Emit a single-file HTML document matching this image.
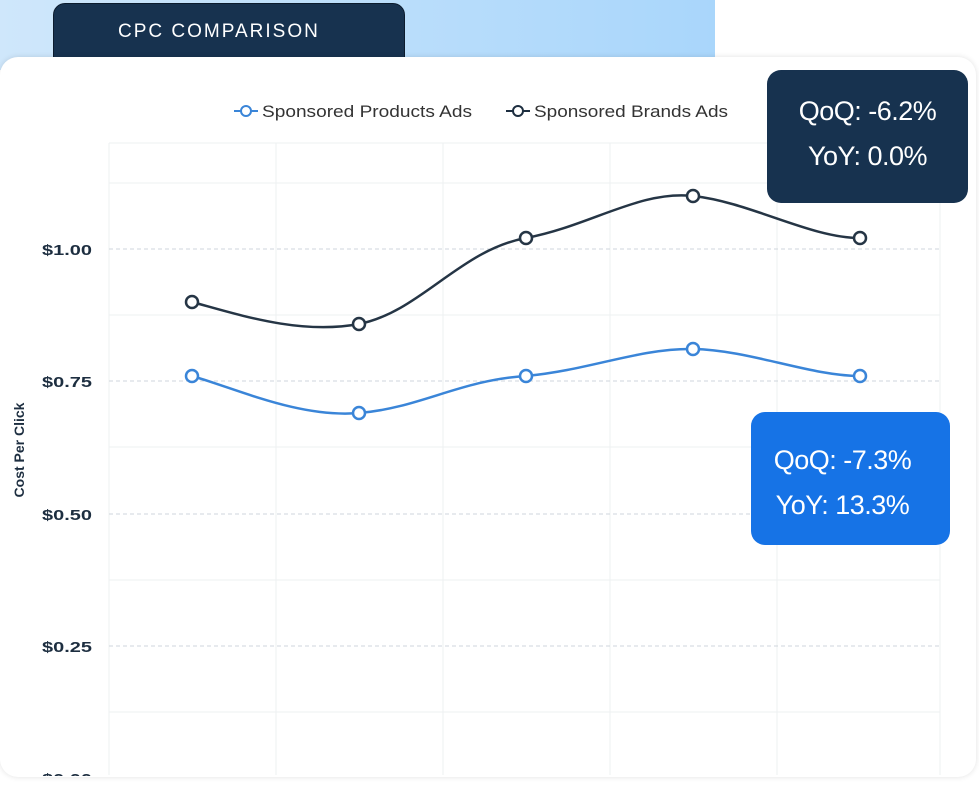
<!DOCTYPE html>
<html><head><meta charset="utf-8"><style>
body{margin:0;width:979px;height:795px;overflow:hidden;background:#fff;position:relative;font-family:"Liberation Sans",sans-serif}
.bg{position:absolute;left:0;top:0;width:715px;height:70px;background:linear-gradient(90deg,#cfe7fb,#a9d6fb)}
.lab{position:absolute;left:53px;top:3px;width:352px;height:70px;background:#17324f;border-radius:12px;border:1px solid #0c1c2e;box-sizing:border-box;color:#fff;font-size:19px;letter-spacing:2px;padding:17px 0 0 64px}
.card{position:absolute;left:0;top:57px;width:976px;height:720px;background:#fff;border-radius:18px;box-shadow:0 0 6px rgba(0,0,0,.12)}
.tip{position:absolute;color:#fff;text-align:center;font-size:27px;line-height:45px;border-radius:14px;letter-spacing:-0.5px}
</style></head><body>
<div class="bg"></div>
<div class="lab">CPC COMPARISON</div>
<div class="card"></div>
<svg style="position:absolute;left:0;top:0" width="979" height="795">
<defs><clipPath id="c"><rect x="0" y="0" width="979" height="776"/></clipPath></defs>
<g stroke="#eef0f2" stroke-width="1">
<line x1="109" y1="143" x2="109" y2="775"/><line x1="276" y1="143" x2="276" y2="775"/><line x1="443" y1="143" x2="443" y2="775"/><line x1="610" y1="143" x2="610" y2="775"/><line x1="777" y1="143" x2="777" y2="775"/><line x1="940" y1="143" x2="940" y2="775"/>
<line x1="109" y1="143" x2="940" y2="143"/><line x1="109" y1="183" x2="940" y2="183"/><line x1="109" y1="315" x2="940" y2="315"/><line x1="109" y1="447" x2="940" y2="447"/><line x1="109" y1="580" x2="940" y2="580"/><line x1="109" y1="712" x2="940" y2="712"/>
</g>
<g stroke="#cfd6dc" stroke-width="1" stroke-dasharray="4,3">
<line x1="109" y1="249" x2="940" y2="249"/><line x1="109" y1="381" x2="940" y2="381"/><line x1="109" y1="514" x2="940" y2="514"/><line x1="109" y1="646" x2="940" y2="646"/>
</g>
<g font-size="15" font-weight="bold" fill="#1d2e40" clip-path="url(#c)">
<text x="42" y="255" textLength="50" lengthAdjust="spacingAndGlyphs">$1.00</text><text x="42" y="387" textLength="50" lengthAdjust="spacingAndGlyphs">$0.75</text><text x="42" y="520" textLength="50" lengthAdjust="spacingAndGlyphs">$0.50</text><text x="42" y="652" textLength="50" lengthAdjust="spacingAndGlyphs">$0.25</text><text x="42" y="784" textLength="50" lengthAdjust="spacingAndGlyphs">$0.00</text>
</g>
<text transform="translate(24,450) rotate(-90)" font-size="14" font-weight="bold" fill="#1d2e40" text-anchor="middle">Cost Per Click</text>
<g font-size="17" fill="#333">
<line x1="234" y1="111" x2="258" y2="111" stroke="#3a85d8" stroke-width="2"/><circle cx="246" cy="111" r="5" fill="#fff" stroke="#3a85d8" stroke-width="2"/>
<text x="262" y="117" textLength="210" lengthAdjust="spacingAndGlyphs">Sponsored Products Ads</text>
<line x1="506" y1="111" x2="530" y2="111" stroke="#1d2e40" stroke-width="2"/><circle cx="518" cy="111" r="5" fill="#fff" stroke="#1d2e40" stroke-width="2"/>
<text x="534" y="117" textLength="194" lengthAdjust="spacingAndGlyphs">Sponsored Brands Ads</text>
</g>
<path d="M192,302 C240,315 300,335 359,324 C420,312 460,250 526,238 C590,226 640,190 693,196 C750,202 810,238 860,238" fill="none" stroke="#253545" stroke-width="2.5"/>
<path d="M192,376 C240,390 300,418 359,413 C420,408 460,380 526,376 C590,370 640,348 693,349 C750,350 810,376 860,376" fill="none" stroke="#3a85d8" stroke-width="2.5"/>
<g fill="#fff" stroke="#253545" stroke-width="2.5"><circle cx="192" cy="302" r="6"/><circle cx="359" cy="324" r="6"/><circle cx="526" cy="238" r="6"/><circle cx="693" cy="196" r="6"/><circle cx="860" cy="238" r="6"/></g>
<g fill="#fff" stroke="#3a85d8" stroke-width="2.5"><circle cx="192" cy="376" r="6"/><circle cx="359" cy="413" r="6"/><circle cx="526" cy="376" r="6"/><circle cx="693" cy="349" r="6"/><circle cx="860" cy="376" r="6"/></g>
</svg>
<div class="tip" style="left:767px;top:70px;width:201px;height:133px;background:#17324f;padding-top:19px;padding-right:0px;box-sizing:border-box">QoQ: -6.2%<br>YoY: 0.0%</div>
<div class="tip" style="left:751px;top:412px;width:199px;height:133px;background:#1673e6;padding-top:26px;padding-right:16px;box-sizing:border-box">QoQ: -7.3%<br>YoY: 13.3%</div>
</body></html>
